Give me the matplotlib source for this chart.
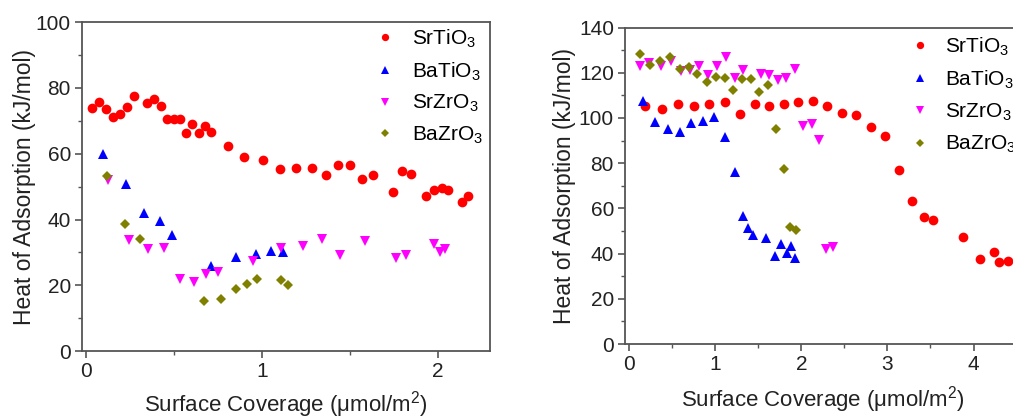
import matplotlib
matplotlib.use('Agg')
import matplotlib.pyplot as plt
from matplotlib.ticker import MultipleLocator

plt.rcParams['font.family'] = ['Liberation Sans', 'DejaVu Sans']
plt.rcParams['mathtext.default'] = 'regular'

# ---- left panel data (coverage in umol/m2, heat in kJ/mol) ----
left_srtio3_x = [0.034, 0.074, 0.112, 0.152, 0.192, 0.231, 0.271, 0.347, 0.387, 0.425,
                 0.459, 0.499, 0.537, 0.571, 0.603, 0.641, 0.676, 0.708, 0.806, 0.896,
                 1.006, 1.106, 1.197, 1.285, 1.364, 1.436, 1.503, 1.569, 1.634, 1.748,
                 1.797, 1.848, 1.937, 1.979, 2.023, 2.059, 2.137, 2.171]
left_srtio3_y = [74.0, 75.7, 73.6, 71.3, 72.1, 74.3, 77.5, 75.5, 76.5, 74.6,
                 70.5, 70.7, 70.7, 66.3, 68.9, 66.3, 68.4, 66.7, 62.2, 59.1,
                 58.0, 55.4, 55.6, 55.7, 53.6, 56.5, 56.5, 52.2, 53.5, 48.3,
                 54.8, 53.7, 47.2, 49.0, 49.6, 49.0, 45.2, 47.2]

left_batio3_x = [0.099, 0.226, 0.332, 0.423, 0.488, 0.708, 0.854, 0.964, 1.053, 1.121]
left_batio3_y = [59.8, 50.9, 42.0, 39.5, 35.3, 25.9, 28.5, 29.5, 30.5, 30.0]

left_srzro3_x = [0.125, 0.243, 0.351, 0.446, 0.537, 0.613, 0.681, 0.753, 0.949, 1.110,
                 1.237, 1.340, 1.442, 1.586, 1.761, 1.818, 1.977, 2.015, 2.044]
left_srzro3_y = [52.0, 33.8, 30.9, 31.4, 22.0, 21.1, 23.4, 24.1, 27.3, 31.3,
                 32.0, 34.1, 29.2, 33.6, 28.4, 29.1, 32.6, 30.2, 30.9]

left_bazro3_x = [0.118, 0.222, 0.309, 0.672, 0.767, 0.854, 0.918, 0.972, 1.110, 1.150]
left_bazro3_y = [53.2, 38.6, 34.0, 15.3, 15.8, 18.9, 20.3, 22.0, 21.7, 20.0]

# ---- right panel data ----
right_srtio3_x = [0.189, 0.383, 0.568, 0.754, 0.931, 1.109, 1.283, 1.461, 1.631, 1.797,
                  1.967, 2.137, 2.303, 2.473, 2.640, 2.806, 2.972, 3.130, 3.281, 3.420,
                  3.525, 3.876, 4.070, 4.236, 4.294, 4.398]
right_srtio3_y = [105.1, 103.9, 106.2, 105.4, 106.1, 107.0, 101.8, 106.1, 105.4, 106.1,
                  107.0, 107.7, 105.1, 102.1, 101.4, 96.2, 92.2, 76.8, 63.2, 56.4,
                  55.0, 47.5, 37.7, 40.7, 36.5, 36.8]

right_batio3_x = [0.162, 0.305, 0.452, 0.587, 0.719, 0.854, 0.986, 1.117, 1.233, 1.326,
                  1.384, 1.438, 1.592, 1.700, 1.770, 1.832, 1.886, 1.925]
right_batio3_y = [107.7, 98.0, 94.9, 93.7, 97.7, 98.7, 100.6, 91.5, 76.0, 56.7,
                  51.4, 48.3, 46.7, 38.8, 44.2, 40.2, 43.3, 37.9]

right_srzro3_x = [0.124, 0.232, 0.367, 0.487, 0.599, 0.711, 0.812, 0.920, 1.020, 1.128,
                  1.229, 1.326, 1.534, 1.631, 1.731, 1.828, 1.925, 2.021, 2.122, 2.203,
                  2.292, 2.369]
right_srzro3_y = [122.8, 124.5, 123.2, 125.1, 120.8, 121.3, 122.8, 119.1, 123.0, 126.9,
                  117.6, 121.3, 119.5, 119.1, 116.6, 117.6, 121.7, 96.5, 97.3, 90.3,
                  42.0, 42.9]

right_bazro3_x = [0.124, 0.240, 0.356, 0.472, 0.587, 0.692, 0.792, 0.900, 1.005, 1.109,
                  1.213, 1.310, 1.414, 1.511, 1.608, 1.704, 1.797, 1.874, 1.944]
right_bazro3_y = [128.3, 123.5, 125.4, 126.9, 121.7, 122.5, 119.5, 115.8, 118.3, 117.6,
                  112.4, 117.3, 117.4, 111.3, 114.6, 95.2, 77.5, 51.6, 50.4]

labels = ['SrTiO$_3$', 'BaTiO$_3$', 'SrZrO$_3$', 'BaZrO$_3$']
styles = [('o', '#ff0000'), ('^', '#0000ff'), ('v', '#ff00ff'), ('D', '#808000')]
sizes = [7, 7, 7, 5.5]

spine_col = '#555555'
text_col = '#222222'


def style_axes(ax, ymax):
    for s in ax.spines.values():
        s.set_color(spine_col)
        s.set_linewidth(1.3)
    ax.set_ylim(0, ymax)
    ax.yaxis.set_major_locator(MultipleLocator(20))
    ax.yaxis.set_minor_locator(MultipleLocator(10))
    ax.xaxis.set_major_locator(MultipleLocator(1))
    ax.xaxis.set_minor_locator(MultipleLocator(0.5))
    ax.tick_params(which='both', direction='out', top=False, right=False,
                   color=spine_col, labelsize=15, labelcolor=text_col)
    ax.tick_params(which='major', length=5, width=1.2, pad=3)
    ax.tick_params(which='minor', length=3, width=1.0)
    ax.set_xlabel('Surface Coverage ($\\mu$mol/m$^2$)', fontsize=16, color=text_col)
    ax.set_ylabel('Heat of Adsorption (kJ/mol)', fontsize=16.5, color=text_col)


fig = plt.figure(figsize=(10.13, 4.17), dpi=100)

# left panel
ax1 = fig.add_axes([0.081, 0.158, 0.403, 0.789])
series1 = [(left_srtio3_x, left_srtio3_y), (left_batio3_x, left_batio3_y),
           (left_srzro3_x, left_srzro3_y), (left_bazro3_x, left_bazro3_y)]
for (xs, ys), (m, c), lab, ms in zip(series1, styles, labels, sizes):
    ax1.plot(xs, ys, linestyle='none', marker=m, color=c, markersize=ms,
             markeredgewidth=0, label=lab)
ax1.set_xlim(-0.023, 2.30)
style_axes(ax1, 100)
ax1.xaxis.labelpad = 6
ax1.yaxis.labelpad = 0
ax1.legend(loc='upper left', bbox_to_anchor=(0.69, 1.015), frameon=False,
           fontsize=15, handlelength=1.0, handletextpad=0.8, labelspacing=0.5,
           markerscale=0.75, borderpad=0)

# right panel (runs off the right edge like the source crop)
ax2 = fig.add_axes([0.617, 0.175, 0.39, 0.759])
series2 = [(right_srtio3_x, right_srtio3_y), (right_batio3_x, right_batio3_y),
           (right_srzro3_x, right_srzro3_y), (right_bazro3_x, right_bazro3_y)]
for (xs, ys), (m, c), lab, ms in zip(series2, styles, labels, sizes):
    ax2.plot(xs, ys, linestyle='none', marker=m, color=c, markersize=ms,
             markeredgewidth=0, label=lab)
ax2.set_xlim(-0.046, 4.54)
style_axes(ax2, 140)
ax2.xaxis.labelpad = 7
ax2.yaxis.labelpad = 2
ax2.legend(loc='upper left', bbox_to_anchor=(0.693, 1.008), frameon=False,
           fontsize=15, handlelength=1.0, handletextpad=0.7, labelspacing=0.52,
           markerscale=0.75, borderpad=0)

fig.savefig('out.png', dpi=100)
